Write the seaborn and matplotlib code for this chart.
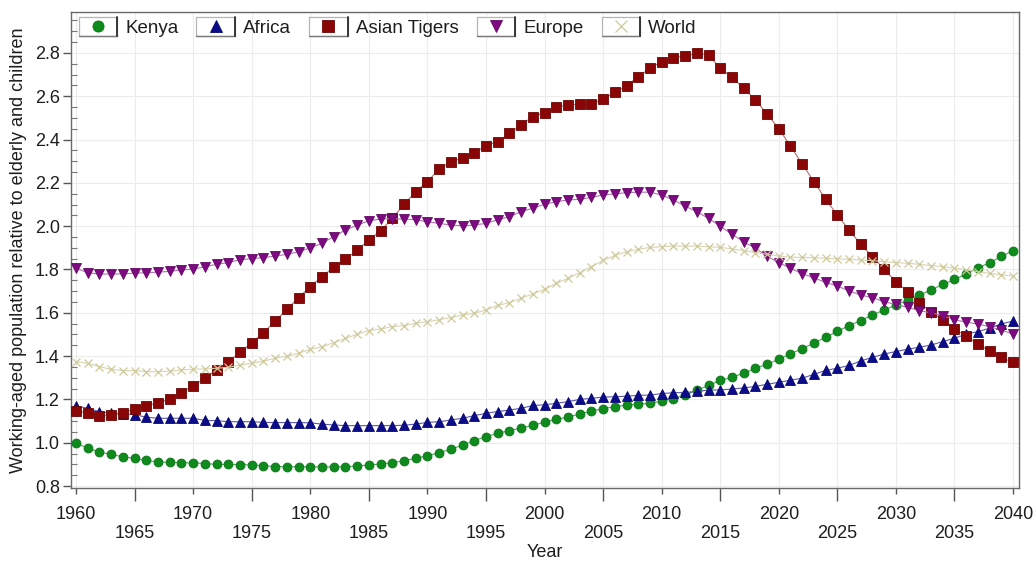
import numpy as np
import matplotlib
matplotlib.use("Agg")
import matplotlib.pyplot as plt
import seaborn as sns
from matplotlib.legend_handler import HandlerBase
from matplotlib.patches import Rectangle
from matplotlib.lines import Line2D
from matplotlib.ticker import MultipleLocator

# ---- data: ratio of working-aged population to elderly + children ----
years = list(range(1960, 2041))

kenya = [
    1.000, 0.974, 0.958, 0.946, 0.935, 0.928, 0.918, 0.912, 0.909, 0.908,
    0.907, 0.904, 0.900, 0.900, 0.899, 0.897, 0.894, 0.890, 0.889, 0.889,
    0.889, 0.889, 0.888, 0.889, 0.893, 0.897, 0.902, 0.908, 0.917, 0.928,
    0.940, 0.954, 0.970, 0.989, 1.010, 1.028, 1.043, 1.056, 1.068, 1.080,
    1.095, 1.108, 1.118, 1.133, 1.146, 1.157, 1.167, 1.173, 1.178, 1.182,
    1.192, 1.204, 1.220, 1.242, 1.265, 1.288, 1.302, 1.321, 1.343, 1.363,
    1.385, 1.411, 1.434, 1.460, 1.487, 1.514, 1.541, 1.564, 1.590, 1.613,
    1.636, 1.659, 1.682, 1.705, 1.731, 1.754, 1.779, 1.808, 1.831, 1.860,
    1.887,
]

africa = [
    1.170, 1.159, 1.143, 1.136, 1.133, 1.130, 1.118, 1.113, 1.113, 1.113,
    1.113, 1.103, 1.102, 1.097, 1.097, 1.097, 1.094, 1.093, 1.093, 1.093,
    1.092, 1.086, 1.082, 1.079, 1.079, 1.079, 1.079, 1.079, 1.081, 1.086,
    1.094, 1.097, 1.105, 1.113, 1.125, 1.136, 1.144, 1.151, 1.159, 1.172,
    1.175, 1.182, 1.190, 1.200, 1.205, 1.211, 1.212, 1.215, 1.219, 1.220,
    1.227, 1.231, 1.232, 1.237, 1.243, 1.244, 1.248, 1.253, 1.260, 1.270,
    1.279, 1.289, 1.298, 1.316, 1.334, 1.344, 1.357, 1.378, 1.394, 1.410,
    1.421, 1.432, 1.441, 1.451, 1.467, 1.482, 1.502, 1.513, 1.529, 1.549,
    1.562,
]

asian_tigers = [
    1.148, 1.136, 1.123, 1.130, 1.136, 1.156, 1.170, 1.185, 1.202, 1.231,
    1.262, 1.299, 1.336, 1.373, 1.418, 1.462, 1.508, 1.562, 1.616, 1.670,
    1.721, 1.767, 1.810, 1.847, 1.890, 1.936, 1.978, 2.036, 2.101, 2.159,
    2.206, 2.263, 2.298, 2.314, 2.337, 2.372, 2.390, 2.428, 2.468, 2.506,
    2.524, 2.549, 2.560, 2.562, 2.564, 2.588, 2.618, 2.649, 2.690, 2.729,
    2.760, 2.778, 2.786, 2.798, 2.791, 2.729, 2.688, 2.637, 2.583, 2.518,
    2.450, 2.370, 2.287, 2.206, 2.124, 2.052, 1.982, 1.916, 1.859, 1.801,
    1.744, 1.698, 1.647, 1.605, 1.567, 1.525, 1.493, 1.456, 1.424, 1.394,
    1.371,
]

europe = [
    1.806, 1.785, 1.779, 1.779, 1.780, 1.783, 1.785, 1.788, 1.791, 1.798,
    1.802, 1.813, 1.824, 1.832, 1.845, 1.850, 1.855, 1.862, 1.870, 1.882,
    1.900, 1.921, 1.952, 1.982, 2.005, 2.025, 2.033, 2.035, 2.033, 2.030,
    2.020, 2.013, 2.005, 2.002, 2.005, 2.013, 2.029, 2.044, 2.067, 2.083,
    2.101, 2.113, 2.121, 2.124, 2.133, 2.144, 2.149, 2.155, 2.157, 2.157,
    2.144, 2.121, 2.093, 2.067, 2.036, 2.000, 1.963, 1.928, 1.898, 1.862,
    1.831, 1.806, 1.780, 1.762, 1.740, 1.724, 1.701, 1.682, 1.670, 1.651,
    1.639, 1.625, 1.610, 1.600, 1.587, 1.568, 1.557, 1.548, 1.536, 1.520,
    1.502,
]

world = [
    1.374, 1.367, 1.351, 1.339, 1.333, 1.333, 1.328, 1.328, 1.331, 1.336,
    1.339, 1.341, 1.344, 1.348, 1.359, 1.367, 1.377, 1.390, 1.400, 1.413,
    1.431, 1.443, 1.462, 1.482, 1.501, 1.518, 1.525, 1.536, 1.541, 1.551,
    1.559, 1.568, 1.578, 1.590, 1.598, 1.613, 1.634, 1.647, 1.667, 1.687,
    1.708, 1.736, 1.759, 1.785, 1.813, 1.842, 1.865, 1.882, 1.893, 1.902,
    1.905, 1.908, 1.908, 1.908, 1.905, 1.902, 1.895, 1.887, 1.878, 1.870,
    1.862, 1.857, 1.856, 1.854, 1.852, 1.849, 1.847, 1.844, 1.841, 1.836,
    1.831, 1.829, 1.824, 1.818, 1.813, 1.806, 1.798, 1.790, 1.782, 1.775,
    1.770,
]

series_names = ["Kenya", "Africa", "Asian Tigers", "Europe", "World"]
series_values = [kenya, africa, asian_tigers, europe, world]

# ---- styling per series ----
styles = {
    "Kenya":        dict(marker="o", mfc="#0f8a1c", mec="#0b7516", line="#4aa654", ms=6.4, mew=0.6),
    "Africa":       dict(marker="^", mfc="#0c0c8a", mec="#08086e", line="#5a5ab0", ms=6.8, mew=0.6),
    "Asian Tigers": dict(marker="s", mfc="#8a0606", mec="#6e0404", line="#b07070", ms=6.8, mew=0.6),
    "Europe":       dict(marker="v", mfc="#7d0a80", mec="#640766", line="#b070b2", ms=6.8, mew=0.6),
    "World":        dict(marker="x", mfc="#cfc99a", mec="#cfc99a", line="#d8d4b4", ms=6.4, mew=0.9),
}

sns.set_theme(style="white")
plt.rcParams["font.family"] = ["Liberation Sans", "DejaVu Sans"]
plt.rcParams["text.color"] = "#1e1e1e"
plt.rcParams["axes.labelcolor"] = "#1e1e1e"
plt.rcParams["xtick.color"] = "#1e1e1e"
plt.rcParams["ytick.color"] = "#1e1e1e"

W, H = 1036, 563
fig = plt.figure(figsize=(W / 100, H / 100), dpi=100)
ax = fig.add_axes([71 / W, 1 - 488 / H, (1019 - 71) / W, (488 - 12) / H])

for z, (name, vals) in enumerate(zip(series_names, series_values)):
    st = styles[name]
    sns.lineplot(
        x=years, y=vals, ax=ax, color=st["line"], linewidth=0.8,
        marker=st["marker"], markersize=st["ms"],
        markerfacecolor=st["mfc"], markeredgecolor=st["mec"],
        markeredgewidth=st["mew"], legend=False, zorder=3 + z,
    )

# ---- axes limits, ticks, grid ----
ax.set_xlim(1959.57, 2040.51)
ax.set_ylim(0.791, 2.989)

decades = list(range(1960, 2041, 10))
halves = list(range(1965, 2040, 10))
ax.set_xticks(decades, labels=[str(y) for y in decades])
ax.set_xticks(halves, labels=[str(y) for y in halves], minor=True)

yt = np.round(np.arange(0.8, 2.81, 0.2), 1)
ax.set_yticks(yt, labels=[f"{v:.1f}" for v in yt])
ax.yaxis.set_minor_locator(MultipleLocator(0.05))

ax.tick_params(axis="x", which="major", bottom=True, direction="out",
               length=4, width=1, pad=9, labelsize=13, color="#555555")
ax.tick_params(axis="x", which="minor", bottom=True, direction="out",
               length=9, width=1, pad=18, labelsize=13, color="#555555")
ax.tick_params(axis="y", which="major", left=True, direction="out",
               length=6, width=1, pad=2, labelsize=13, color="#555555")
ax.tick_params(axis="y", which="minor", left=True, direction="in",
               length=4, width=0.8, color="#777777")

ax.grid(True, axis="x", which="both", color="#ececec", linewidth=0.8, zorder=0)
ax.grid(True, axis="y", which="major", color="#ececec", linewidth=0.8, zorder=0)
ax.set_axisbelow(True)

for side in ["left", "bottom", "top", "right"]:
    ax.spines[side].set_visible(True)
    ax.spines[side].set_color("#6a6a6a")
    ax.spines[side].set_linewidth(1.0)

ax.set_xlabel("Year", fontsize=13, labelpad=1)
ax.set_ylabel("Working-aged population relative to elderly and children",
              fontsize=13, labelpad=6)


# ---- legend with boxed marker keys ----
class BoxedMarker(HandlerBase):
    def create_artists(self, legend, orig_handle, xdescent, ydescent,
                       width, height, fontsize, trans):
        x0, y0 = -xdescent, -ydescent
        bh = height * 1.35
        by = y0 + height / 2 - bh / 2
        box = Rectangle((x0, by), width, bh, facecolor="white",
                        edgecolor="#b4b4b4", linewidth=0.9, transform=trans)
        shade_r = Line2D([x0 + width, x0 + width], [by, by + bh],
                         color="#2a2a2a", linewidth=1.3, transform=trans)
        shade_b = Line2D([x0, x0 + width], [by, by],
                         color="#7a7a7a", linewidth=1.0, transform=trans)
        mk = Line2D([x0 + width / 2], [y0 + height / 2],
                    marker=orig_handle.get_marker(),
                    markersize=orig_handle.get_markersize() * 1.25,
                    markerfacecolor=orig_handle.get_markerfacecolor(),
                    markeredgecolor=orig_handle.get_markeredgecolor(),
                    markeredgewidth=orig_handle.get_markeredgewidth(),
                    linestyle="none", transform=trans)
        return [box, shade_b, shade_r, mk]


handles = []
for name in series_names:
    st = styles[name]
    handles.append(Line2D([], [], marker=st["marker"], markersize=st["ms"],
                          markerfacecolor=st["mfc"], markeredgecolor=st["mec"],
                          markeredgewidth=st["mew"], linestyle="none"))

leg = ax.legend(handles, series_names, loc="upper left",
                bbox_to_anchor=(0.002, 0.997), ncol=5, frameon=False,
                fontsize=13.5, handlelength=2.05, handleheight=0.8,
                handletextpad=0.45, columnspacing=0.95, borderpad=0.3,
                borderaxespad=0.0,
                handler_map={Line2D: BoxedMarker()})
leg.set_zorder(20)

fig.savefig("out.png", dpi=100)
